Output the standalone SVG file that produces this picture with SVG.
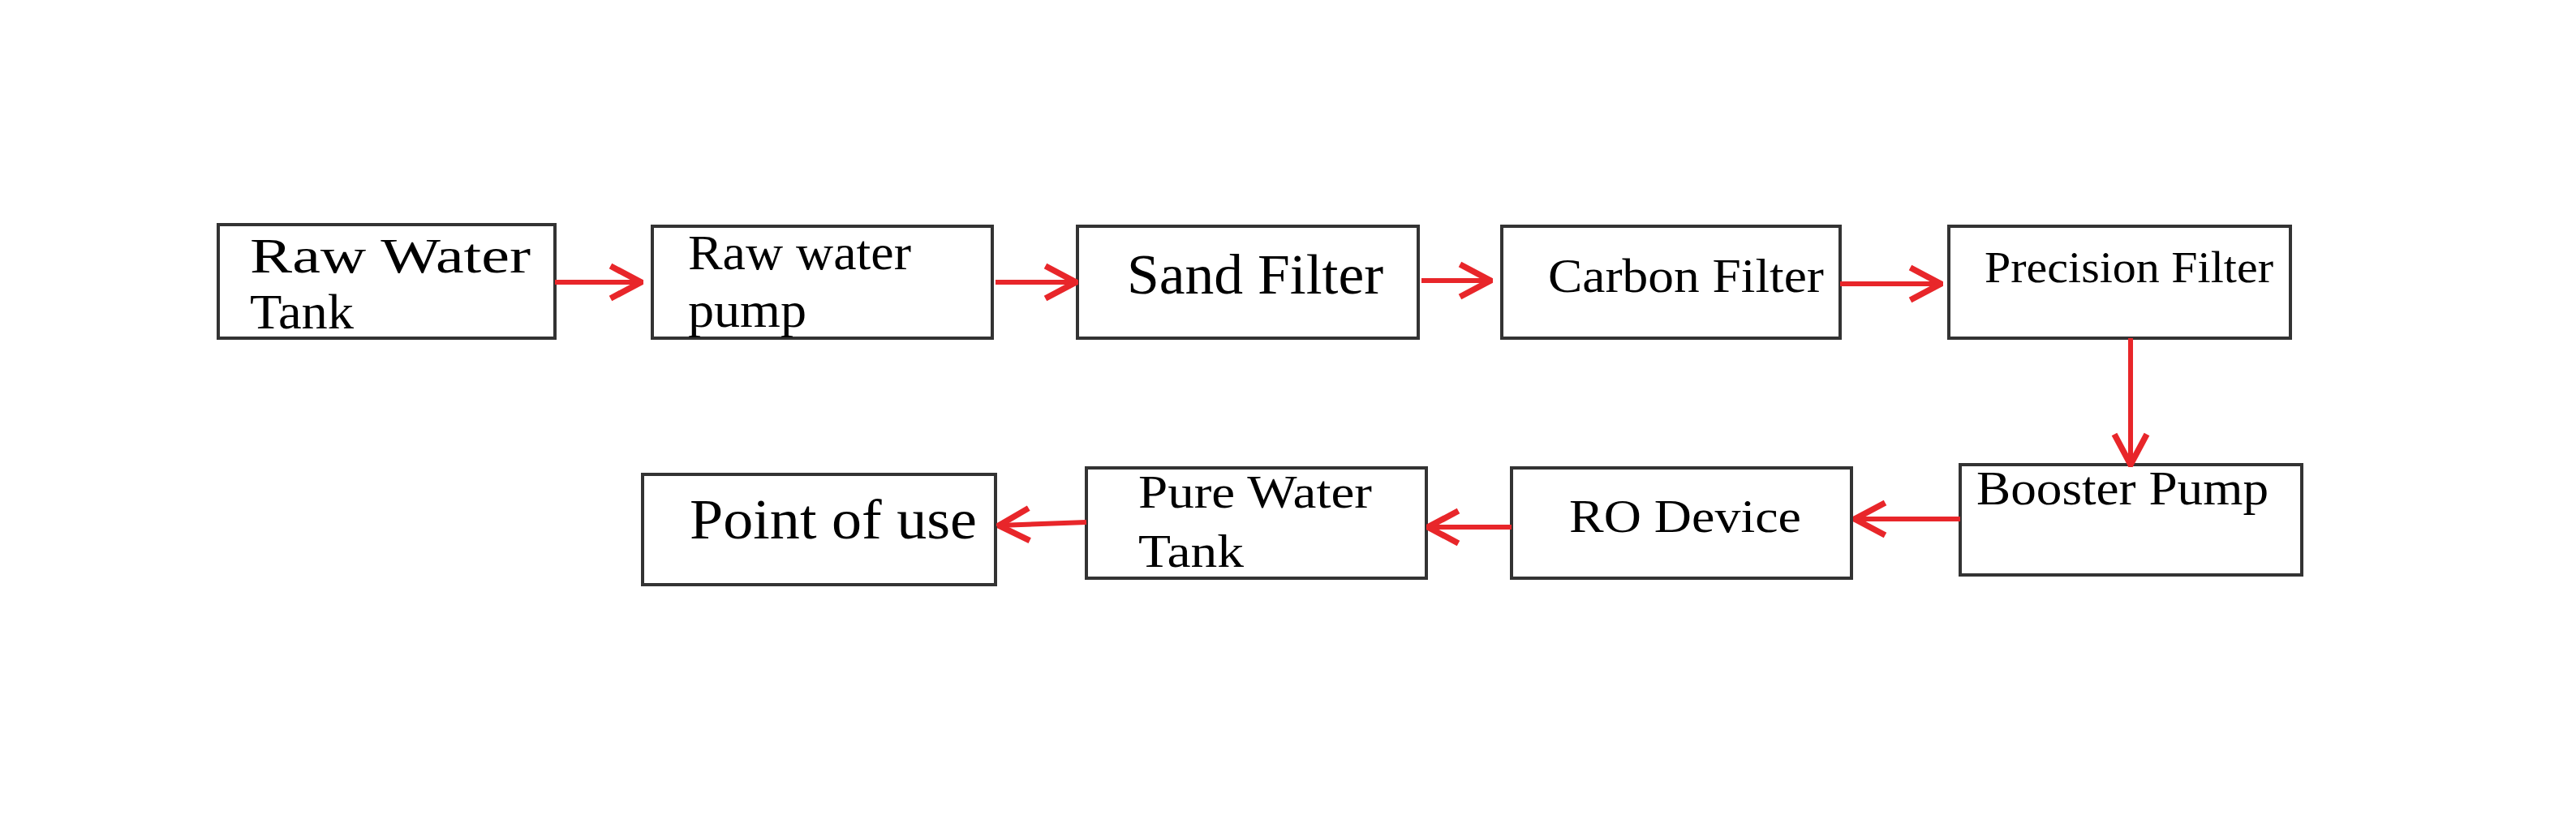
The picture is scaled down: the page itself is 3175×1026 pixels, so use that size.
<svg xmlns="http://www.w3.org/2000/svg" width="3175" height="1026" viewBox="0 0 3175 1026">
<style>
.b{fill:#fff;stroke:#333;stroke-width:4}
.t{font-family:"Liberation Serif","Times New Roman",serif;fill:#000}
.c{stroke:#e8262a;stroke-width:6;fill:none;marker-end:url(#a)}
</style>
<defs><marker id="a" markerUnits="userSpaceOnUse" markerWidth="50" markerHeight="50" refX="38" refY="20" orient="auto" viewBox="0 0 40 40"><path d="M8 4L38 20L8 36" fill="none" stroke="#e8262a" stroke-width="6"/></marker></defs>
<rect width="3175" height="1026" fill="#fff"/>
<g id="n1"><rect class="b" x="269" y="277" width="415" height="140"/><text class="t" font-size="62" x="308" y="336" textLength="346" lengthAdjust="spacingAndGlyphs">Raw Water</text><text class="t" font-size="62" x="308" y="405" textLength="128" lengthAdjust="spacingAndGlyphs">Tank</text></g>
<g id="n2"><rect class="b" x="804" y="279" width="419" height="138"/><text class="t" font-size="62" x="848" y="332" textLength="275" lengthAdjust="spacingAndGlyphs">Raw water</text><text class="t" font-size="62" x="848" y="403" textLength="146" lengthAdjust="spacingAndGlyphs">pump</text></g>
<g id="n3"><rect class="b" x="1328" y="279" width="420" height="138"/><text class="t" font-size="70" x="1389" y="362" textLength="316" lengthAdjust="spacingAndGlyphs">Sand Filter</text></g>
<g id="n4"><rect class="b" x="1851" y="279" width="417" height="138"/><text class="t" font-size="60" x="1908" y="360" textLength="340" lengthAdjust="spacingAndGlyphs">Carbon Filter</text></g>
<g id="n5"><rect class="b" x="2402" y="279" width="421" height="138"/><text class="t" font-size="54" x="2446" y="348" textLength="356" lengthAdjust="spacingAndGlyphs">Precision Filter</text></g>
<g id="n6"><rect class="b" x="2416" y="573" width="421" height="136"/><text class="t" font-size="60" x="2436" y="622" textLength="360" lengthAdjust="spacingAndGlyphs">Booster Pump</text></g>
<g id="n7"><rect class="b" x="1863" y="577" width="419" height="136"/><text class="t" font-size="58" x="1934" y="656" textLength="286" lengthAdjust="spacingAndGlyphs">RO Device</text></g>
<g id="n8"><rect class="b" x="1339" y="577" width="419" height="136"/><text class="t" font-size="58" x="1403" y="626" textLength="288" lengthAdjust="spacingAndGlyphs">Pure Water</text><text class="t" font-size="58" x="1403" y="699" textLength="130" lengthAdjust="spacingAndGlyphs">Tank</text></g>
<g id="n9"><rect class="b" x="792" y="585" width="435" height="136"/><text class="t" font-size="70" x="850" y="664" textLength="354" lengthAdjust="spacingAndGlyphs">Point of use</text></g>
<g id="connectors">
<line class="c" x1="684" y1="348" x2="790" y2="348"/>
<line class="c" x1="1227" y1="348" x2="1326" y2="348"/>
<line class="c" x1="1752" y1="346" x2="1837" y2="346"/>
<line class="c" x1="2268" y1="350" x2="2392" y2="350"/>
<line class="c" x1="2626" y1="417" x2="2626" y2="573"/>
<line class="c" x1="2416" y1="640" x2="2286" y2="640"/>
<line class="c" x1="1863" y1="650" x2="1760" y2="650"/>
<line class="c" x1="1339" y1="644" x2="1231" y2="648"/>
</g>
</svg>
